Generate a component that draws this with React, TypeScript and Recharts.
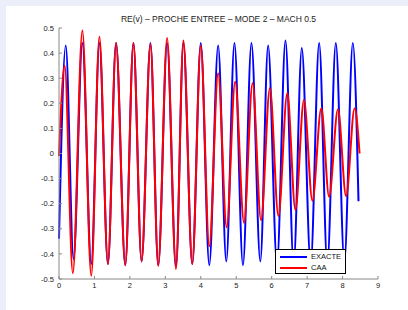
import { LineChart, Line, XAxis, YAxis } from 'recharts';

// EXACTE: start, alternating peaks / troughs, end
const exacteX = [
  0, 0.19, 0.41, 0.66, 0.91, 1.14, 1.38, 1.61, 1.87, 2.1, 2.33, 2.58, 2.8, 3.05, 3.3, 3.51, 3.76,
  4.0, 4.24, 4.49, 4.72, 4.95, 5.19, 5.43, 5.68, 5.9, 6.15, 6.39, 6.62, 6.85, 7.1, 7.34, 7.57,
  7.81, 8.05, 8.29, 8.45,
];
const exacteY = [
  -0.34, 0.43, -0.42, 0.44, -0.44, 0.44, -0.44, 0.44, -0.445, 0.44, -0.43, 0.44, -0.445, 0.44,
  -0.45, 0.44, -0.44, 0.44, -0.445, 0.43, -0.43, 0.44, -0.445, 0.44, -0.43, 0.43, -0.44, 0.45,
  -0.44, 0.42, -0.44, 0.44, -0.44, 0.44, -0.43, 0.44, -0.19,
];

// CAA
const caaX = [
  0, 0.16, 0.39, 0.66, 0.91, 1.14, 1.38, 1.61, 1.87, 2.1, 2.33, 2.58, 2.8, 3.05, 3.3, 3.51, 3.76,
  4.0, 4.24, 4.49, 4.73, 4.97, 5.22, 5.46, 5.7, 5.95, 6.19, 6.44, 6.67, 6.91, 7.15, 7.4, 7.62,
  7.87, 8.1, 8.34, 8.48,
];
const caaY = [
  -0.01, 0.35, -0.477, 0.49, -0.487, 0.465, -0.44, 0.44, -0.445, 0.44, -0.43, 0.436, -0.448, 0.46,
  -0.46, 0.45, -0.44, 0.43, -0.37, 0.32, -0.294, 0.286, -0.276, 0.28, -0.265, 0.26, -0.249, 0.24,
  -0.225, 0.213, -0.188, 0.18, -0.172, 0.176, -0.17, 0.18, 0.0,
];

const xTicks = [0, 1, 2, 3, 4, 5, 6, 7, 8, 9];
const yTicks = [-0.5, -0.4, -0.3, -0.2, -0.1, 0, 0.1, 0.2, 0.3, 0.4, 0.5];

const title = 'RE(v) \u2013 PROCHE ENTREE \u2013 MODE 2 \u2013 MACH 0.5';

const exacte = exacteX.map((x, i) => ({ x, y: exacteY[i] }));
const caa = caaX.map((x, i) => ({ x, y: caaY[i] }));

const font = '"Liberation Sans", Arial, sans-serif';
const tickStyle = { fill: '#222', fontSize: 7.5, fontFamily: font };

function LegendBox() {
  const row = (color: string, label: string) => (
    <div style={{ display: 'flex', alignItems: 'center', height: 11 }}>
      <span style={{ display: 'inline-block', width: 27, height: 2, background: color, marginLeft: 4, marginRight: 4 }} />
      <span style={{ fontSize: 7.5, color: '#111', fontFamily: font }}>{label}</span>
    </div>
  );
  return (
    <div
      style={{
        position: 'absolute',
        left: 275,
        top: 249,
        border: '1px solid #000',
        background: '#fff',
        width: 69,
        height: 22,
        paddingTop: 1,
      }}
    >
      {row('#0000ff', 'EXACTE')}
      {row('#ff0000', 'CAA')}
    </div>
  );
}

export default function App() {
  return (
    <div style={{ position: 'absolute', left: 0, top: 0, width: 408, height: 310, background: '#eceefa' }}>
      <div style={{ position: 'absolute', left: 6, top: 6, width: 402, height: 304, background: '#fff' }} />
      <div
        style={{
          position: 'absolute',
          left: 59,
          top: 14,
          width: 319,
          textAlign: 'center',
          fontFamily: font,
          fontSize: 8.5,
          lineHeight: '10px',
          color: '#222',
        }}
      >
        {title}
      </div>
      <div style={{ position: 'absolute', left: 0, top: 0 }}>
        <LineChart width={408} height={310} margin={{ top: 28, right: 30, left: 0, bottom: 0 }}>
          <XAxis
            dataKey="x"
            type="number"
            domain={[0, 9]}
            ticks={xTicks}
            height={31}
            stroke="#888"
            tickSize={-3}
            tickMargin={7}
            tick={tickStyle}
            allowDuplicatedCategory={false}
          />
          <YAxis
            type="number"
            domain={[-0.5, 0.5]}
            ticks={yTicks}
            width={59}
            stroke="#888"
            tickSize={-3}
            tickMargin={8}
            tick={tickStyle}
            tickFormatter={(v: number) => (v === 0 ? '0' : v.toFixed(1))}
          />
          <Line
            data={exacte}
            dataKey="y"
            type="monotone"
            stroke="#0000ff"
            strokeWidth={2}
            dot={false}
            isAnimationActive={false}
          />
          <Line
            data={caa}
            dataKey="y"
            type="monotone"
            stroke="#ff0000"
            strokeWidth={2}
            dot={false}
            isAnimationActive={false}
          />
        </LineChart>
      </div>
      <LegendBox />
    </div>
  );
}
